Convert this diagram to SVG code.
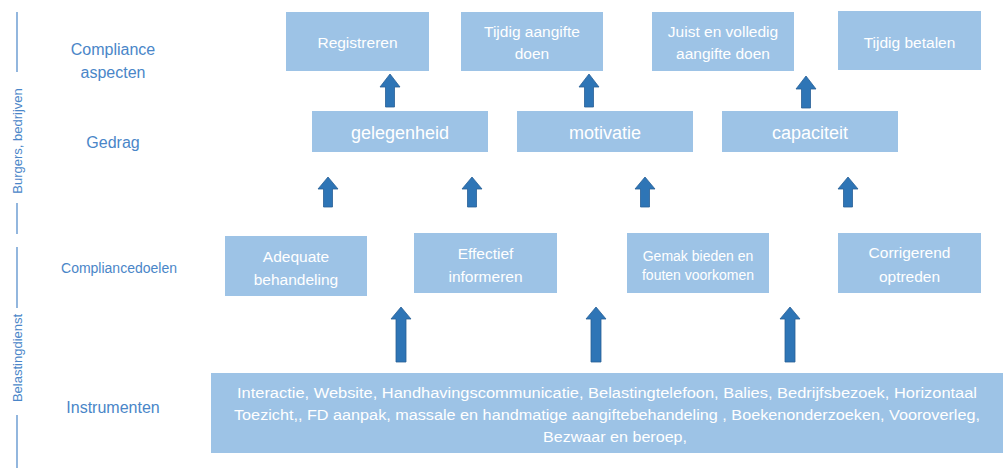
<svg xmlns="http://www.w3.org/2000/svg" width="1006" height="468" viewBox="0 0 1006 468">
<style>
.box{fill:#9dc3e6;}
.bt{fill:#ffffff;font-family:"Liberation Sans",Arial,sans-serif;font-size:15.5px;text-anchor:middle;}
.bb{font-size:18px;}
.sm{font-size:14px;}
.it{font-size:15.5px;}
.lab{fill:#4a86c8;font-family:"Liberation Sans",Arial,sans-serif;font-size:16px;text-anchor:middle;}
.side{fill:#4a86c8;font-family:"Liberation Sans",Arial,sans-serif;font-size:13px;text-anchor:middle;}
.vl{stroke:#4a86c8;stroke-width:1.2;fill:none;}
.arr{fill:#2e75b6;stroke:#285f96;stroke-width:0.8;}
</style>
<rect width="1006" height="468" fill="#ffffff"/>
<g id="side">
<line class="vl" x1="17" y1="12" x2="17" y2="72"/>
<line class="vl" x1="17" y1="203" x2="17" y2="234"/>
<line class="vl" x1="17" y1="247" x2="17" y2="308"/>
<line class="vl" x1="17" y1="415" x2="17" y2="468"/>
<text class="side" transform="translate(22,141) rotate(-90)">Burgers, bedrijven</text>
<text class="side" transform="translate(22,358) rotate(-90)">Belastingdienst</text>
</g>
<g id="labels">
<text class="lab" x="113" y="55">Compliance</text>
<text class="lab" x="113" y="78">aspecten</text>
<text class="lab" x="113" y="148">Gedrag</text>
<text class="lab" x="119" y="273" style="font-size:14px">Compliancedoelen</text>
<text class="lab" x="113" y="413">Instrumenten</text>
</g>
<g id="n-registreren"><rect class="box" x="286" y="12" width="143" height="59"/><text class="bt" x="357.5" y="48">Registreren</text></g>
<g id="n-tijdig-aangifte"><rect class="box" x="461" y="12" width="142" height="59"/><text class="bt" x="532" y="37">Tijdig aangifte</text><text class="bt" x="532" y="59">doen</text></g>
<g id="n-juist"><rect class="box" x="652" y="12" width="142" height="59"/><text class="bt" x="723" y="37">Juist en volledig</text><text class="bt" x="723" y="59">aangifte doen</text></g>
<g id="n-tijdig-betalen"><rect class="box" x="838" y="11" width="143" height="59"/><text class="bt" x="909.5" y="48">Tijdig betalen</text></g>
<g id="n-gelegenheid"><rect class="box" x="312" y="111" width="176" height="41"/><text class="bt bb" x="400" y="139">gelegenheid</text></g>
<g id="n-motivatie"><rect class="box" x="517" y="111" width="176" height="41"/><text class="bt bb" x="605" y="139">motivatie</text></g>
<g id="n-capaciteit"><rect class="box" x="722" y="111" width="176" height="41"/><text class="bt bb" x="810" y="139">capaciteit</text></g>
<g id="n-adequate"><rect class="box" x="225" y="236" width="142" height="60"/><text class="bt" x="296" y="262">Adequate</text><text class="bt" x="296" y="285">behandeling</text></g>
<g id="n-effectief"><rect class="box" x="414" y="233" width="143" height="60"/><text class="bt" x="485.5" y="259">Effectief</text><text class="bt" x="485.5" y="282">informeren</text></g>
<g id="n-gemak"><rect class="box" x="627" y="233" width="142" height="60"/><text class="bt sm" x="698" y="261">Gemak bieden en</text><text class="bt sm" x="698" y="280">fouten voorkomen</text></g>
<g id="n-corrigerend"><rect class="box" x="838" y="233" width="143" height="60"/><text class="bt" x="909.5" y="258">Corrigerend</text><text class="bt" x="909.5" y="282">optreden</text></g>
<g id="n-instrumenten"><rect class="box" x="211" y="373" width="792" height="80"/>
<text class="bt it" x="607" y="398" textLength="740" lengthAdjust="spacingAndGlyphs">Interactie, Website, Handhavingscommunicatie, Belastingtelefoon, Balies, Bedrijfsbezoek, Horizontaal</text>
<text class="bt it" x="607" y="420" textLength="746" lengthAdjust="spacingAndGlyphs">Toezicht,, FD aanpak, massale en handmatige aangiftebehandeling , Boekenonderzoeken, Vooroverleg,</text>
<text class="bt it" x="615" y="442" textLength="144" lengthAdjust="spacingAndGlyphs">Bezwaar en beroep,</text>
</g>
<g id="connectors">
<polygon class="arr" points="390,74 400,87 394.5,87 394.5,107 385.5,107 385.5,87 380,87"/>
<polygon class="arr" points="589,74 599,87 593.5,87 593.5,107 584.5,107 584.5,87 579,87"/>
<polygon class="arr" points="806,76 816,89 810.5,89 810.5,108 801.5,108 801.5,89 796,89"/>
<polygon class="arr" points="328,177 338,189 332.5,189 332.5,207 323.5,207 323.5,189 318,189"/>
<polygon class="arr" points="472,177 482,189 476.5,189 476.5,207 467.5,207 467.5,189 462,189"/>
<polygon class="arr" points="645,177 655,189 649.5,189 649.5,207 640.5,207 640.5,189 635,189"/>
<polygon class="arr" points="848,177 858,189 852.5,189 852.5,207 843.5,207 843.5,189 838,189"/>
<polygon class="arr" points="401,307 411,319 406,319 406,362 396,362 396,319 391,319"/>
<polygon class="arr" points="596,307 606,319 601,319 601,362 591,362 591,319 586,319"/>
<polygon class="arr" points="790,307 800,319 795,319 795,362 785,362 785,319 780,319"/>
</g>
</svg>
